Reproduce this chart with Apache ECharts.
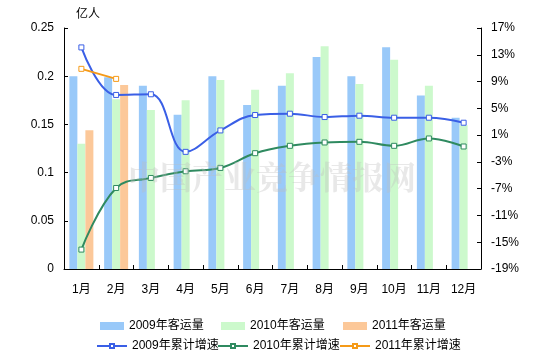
<!DOCTYPE html>
<html><head><meta charset="utf-8">
<script src="https://cdn.jsdelivr.net/npm/echarts@6/dist/echarts.min.js"></script>
<style>html,body{margin:0;padding:0;background:#fff}#c{width:541px;height:364px}</style>
</head><body><div id="c"></div>
<script>
const months = ['1月','2月','3月','4月','5月','6月','7月','8月','9月','10月','11月','12月'];
const vol2009 = [0.200,0.199,0.190,0.160,0.200,0.170,0.190,0.220,0.200,0.230,0.180,0.157];
const vol2010 = [0.130,0.176,0.165,0.175,0.196,0.186,0.203,0.231,0.192,0.217,0.190,0.149];
const vol2011 = [0.144,0.191,null,null,null,null,null,null,null,null,null,null];
const grow2009 = [14.1,7.0,7.1,-1.5,1.7,4.0,4.2,3.7,3.9,3.6,3.6,2.85];
const grow2010 = [-16.1,-6.9,-5.4,-4.4,-3.9,-1.7,-0.6,-0.1,0.0,-0.6,0.5,-0.7];
const grow2011 = [10.9,9.4,null,null,null,null,null,null,null,null,null,null];
const names = ['2009年客运量','2010年客运量','2011年客运量','2009年累计增速','2010年累计增速','2011年累计增速'];
const barColors = ['#99c9f9','#ccf9cc','#fcc899'];
const lineColors = ['#3a5fe6','#2f8a60','#f59a18'];
const FONT = "'Liberation Sans','Noto Sans CJK SC',sans-serif";
const txt = {color:'#000', fontSize:12, fontFamily:FONT};

const chart = echarts.init(document.getElementById('c'));
const bars = [vol2009, vol2010, vol2011].map((d,i)=>({
  name:names[i], type:'bar', data:d, barWidth:8, barGap:'0%',
  itemStyle:{color:barColors[i]}, yAxisIndex:0
}));
const lines = [grow2009, grow2010, grow2011].map((d,i)=>({
  name:names[i+3], type:'line', data:d, yAxisIndex:1, smooth:0.4,
  symbol:'rect', symbolSize:5, showAllSymbol:true,
  lineStyle:{color:lineColors[i], width:2},
  itemStyle:{color:'#fff', borderColor:lineColors[i], borderWidth:1},
  z:5
}));
const legendPos = [[100,320],[221,320],[343,320],[96,340],[217,340],[339,340]];
const legends = names.map((n,i)=>({
  data:[i<3?{name:n, icon:'rect'}:{name:n}],
  left:legendPos[i][0], top:legendPos[i][1],
  itemWidth:i<3?24:30, itemHeight:i<3?8:5, itemGap:0,
  textStyle:txt, padding:0, selectedMode:false
}));
const tick = {show:true, inside:true, length:4, lineStyle:{color:'#000'}};
chart.setOption({
  animation:false,
  backgroundColor:'#fff',
  grid:{left:64, right:60, top:28, bottom:95},
  legend:legends,
  graphic:[
    {type:'text', left:76, top:7, style:{text:'亿人', fill:'#000', font:"12px 'Noto Sans CJK SC'"}},
    {type:'text', left:128, top:161, z:10, style:{text:'中国产业竞争情报网', fill:'rgba(190,190,190,0.35)', font:"bold 32px 'Noto Serif CJK SC','Noto Sans CJK SC'"}}
  ],
  xAxis:{type:'category', data:months,
    axisLine:{lineStyle:{color:'#000'}},
    axisTick:tick,
    axisLabel:Object.assign({margin:15}, txt)},
  yAxis:[
    {type:'value', min:0, max:0.25, interval:0.05,
     axisLine:{show:true, lineStyle:{color:'#000'}},
     axisTick:tick,
     splitLine:{show:false},
     axisLabel:Object.assign({margin:10}, txt)},
    {type:'value', min:-19, max:17, interval:4, position:'right',
     axisLine:{show:true, lineStyle:{color:'#000'}},
     axisTick:tick,
     splitLine:{show:false},
     axisLabel:Object.assign({margin:10, formatter:'{value}%'}, txt)}
  ],
  series:bars.concat(lines)
});
</script></body></html>
